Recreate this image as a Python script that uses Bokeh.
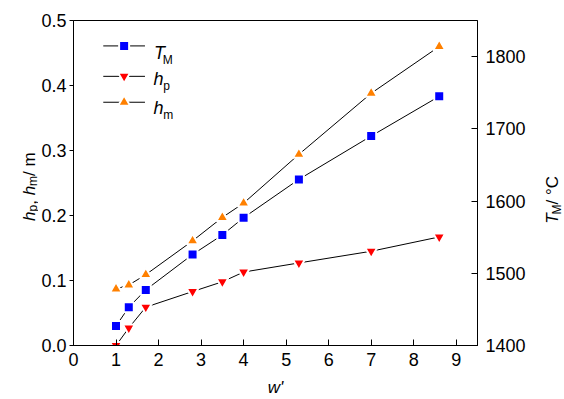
import math
from bokeh.plotting import figure
from bokeh.layouts import row
from bokeh.models import (Range1d, LinearAxis, FixedTicker, PrintfTickFormatter, Label)
from bokeh.embed import file_html
from bokeh.resources import INLINE

# ---- data ----
w_prime = [1.0, 1.3, 1.7, 2.8, 3.5, 4.0, 5.3, 7.0, 8.6]
T_M = [1427, 1453, 1477, 1526, 1553, 1577, 1630, 1690, 1745]
h_p = [0.0, 0.027, 0.059, 0.083, 0.098, 0.113, 0.127, 0.145, 0.167]
h_m = [0.087, 0.093, 0.109, 0.161, 0.197, 0.219, 0.294, 0.388, 0.460]

x_ticks = [0, 1, 2, 3, 4, 5, 6, 7, 8, 9]
y_ticks = [0.0, 0.1, 0.2, 0.3, 0.4, 0.5]
t_ticks = [1400, 1500, 1600, 1700, 1800]

X_MAX = 9.5
Y_MAX = 0.5
T_MIN, T_MAX = 1400, 1850

FONT = "Liberation Sans"
BLUE = "#0000FF"
RED = "#FF0000"
ORANGE = "#FF8000"

# page layout (pixels)
H = 399
LEFT_W = 38
RIGHT_W = 33
MAIN_W = 564 - LEFT_W - RIGHT_W
FL, FR, FT, FB = 70, 477, 20, 346   # frame edges in page pixels

p = figure(width=MAIN_W, height=H, output_backend="svg", toolbar_location=None,
           x_range=Range1d(0, X_MAX), y_range=Range1d(0, Y_MAX),
           min_border_left=FL - LEFT_W, min_border_right=LEFT_W + MAIN_W - FR,
           min_border_top=FT, min_border_bottom=H - FB)
p.extra_y_ranges = {"T": Range1d(T_MIN, T_MAX)}
p.xgrid.visible = False
p.ygrid.visible = False
p.outline_line_color = "black"
p.outline_line_width = 1
p.background_fill_color = "white"
p.border_fill_color = "white"

def style_axis(ax, ticks, tin, tout, standoff):
    ax.ticker = FixedTicker(ticks=ticks)
    ax.axis_line_color = "black"
    ax.major_tick_line_color = "black"
    ax.minor_tick_line_color = None
    ax.major_tick_in = tin
    ax.major_tick_out = tout
    ax.major_label_standoff = standoff
    ax.major_label_text_font = FONT
    ax.major_label_text_font_size = "18px"
    ax.major_label_text_color = "black"

style_axis(p.xaxis[0], x_ticks, 6, 0, 7)
p.xaxis[0].axis_label = "w'"
p.xaxis[0].axis_label_text_font = FONT
p.xaxis[0].axis_label_text_font_size = "17px"
p.xaxis[0].axis_label_text_font_style = "italic"
p.xaxis[0].axis_label_text_color = "black"
p.xaxis[0].axis_label_standoff = 9
style_axis(p.yaxis[0], y_ticks, 0, 4, 3)
p.yaxis[0].formatter = PrintfTickFormatter(format="%.1f")
rax = LinearAxis(y_range_name="T")
style_axis(rax, t_ticks, 6, 0, 8)
p.add_layout(rax, "right")

# ---- series ----
p.line(w_prime, h_m, line_color="black", line_width=1)
p.line(w_prime, T_M, line_color="black", line_width=1, y_range_name="T")
p.line(w_prime, h_p, line_color="black", line_width=1)
p.scatter(w_prime, h_m, marker="triangle", size=12, fill_color=ORANGE,
          line_color="white", line_width=2)
p.scatter(w_prime, T_M, marker="square", size=10, fill_color=BLUE,
          line_color="white", line_width=2, y_range_name="T")
p.scatter(w_prime, h_p, marker="inverted_triangle", size=12, fill_color=RED,
          line_color="white", line_width=2)

# ---- helpers: page pixel -> main data coordinates (legend inside the frame) ----
def dx(px):
    return (px - FL) / (FR - FL) * X_MAX
def dy(py):
    return (FB - py) / (FB - FT) * Y_MAX

def txt(fig, s, x, y, size, italic=False, angle=0.0, align="left"):
    fig.add_layout(Label(x=x, y=y, text=s, angle=angle,
                         text_font=FONT, text_font_size=f"{size}px",
                         text_font_style="italic" if italic else "normal",
                         text_color="black", text_align=align,
                         text_baseline="alphabetic"))

# ---- legend ----
leg_rows = [("square", BLUE, 10, 45.5), ("inverted_triangle", RED, 12, 76),
            ("triangle", ORANGE, 12, 102)]
for mk, col, sz, py in leg_rows:
    p.segment(x0=[dx(100)], y0=[dy(py)], x1=[dx(142)], y1=[dy(py)],
              line_color="black", line_width=1)
    p.scatter([dx(121)], [dy(py)], marker=mk, size=sz, fill_color=col,
              line_color="white", line_width=2)

txt(p, "T", dx(151), dy(52.5), 18, italic=True)
txt(p, "M", dx(160), dy(59.5), 12)
txt(p, "h", dx(150.5), dy(78.5), 18, italic=True)
txt(p, "p", dx(160.5), dy(86), 12)
txt(p, "h", dx(150.5), dy(107.5), 18, italic=True)
txt(p, "m", dx(160.5), dy(115), 12)

# ---- side strips for the rotated axis titles ----
# strip coordinates: x = page pixel, y = pixels up from the page bottom.
# The row aligns the strip frames with the main frame (top FT, bottom FB).
def strip(x0, w):
    f = figure(width=w, height=H, output_backend="svg", toolbar_location=None,
               x_range=Range1d(x0, x0 + w), y_range=Range1d(H - FB, H - FT),
               min_border_left=0, min_border_right=0,
               min_border_top=FT, min_border_bottom=H - FB,
               x_axis_location=None, y_axis_location=None)
    f.xgrid.visible = False
    f.ygrid.visible = False
    f.outline_line_color = None
    f.background_fill_color = "white"
    f.border_fill_color = "white"
    return f

A = math.pi / 2
def vtxt(fig, s, px, py, size, italic=False):
    txt(fig, s, px, H - py, size, italic=italic, angle=A)

lf = strip(0, LEFT_W)
# h_p, h_m / m  (reads upward)
vtxt(lf, "h", 29, 221, 17, italic=True)
vtxt(lf, "p", 32, 211.5, 12)
vtxt(lf, ",", 29, 204.8, 17)
vtxt(lf, "h", 29, 195.3, 17, italic=True)
vtxt(lf, "m", 32, 185.9, 12)
vtxt(lf, " / m", 29, 175.9, 17)

rf = strip(LEFT_W + MAIN_W, RIGHT_W)
# T_M / °C
vtxt(rf, "T", 552, 224, 17, italic=True)
vtxt(rf, "M", 556, 214.5, 12)
vtxt(rf, " / °C", 552, 204.5, 17)

layout = row(lf, p, rf, spacing=0)
open("out.html", "w").write(file_html(layout, INLINE))
